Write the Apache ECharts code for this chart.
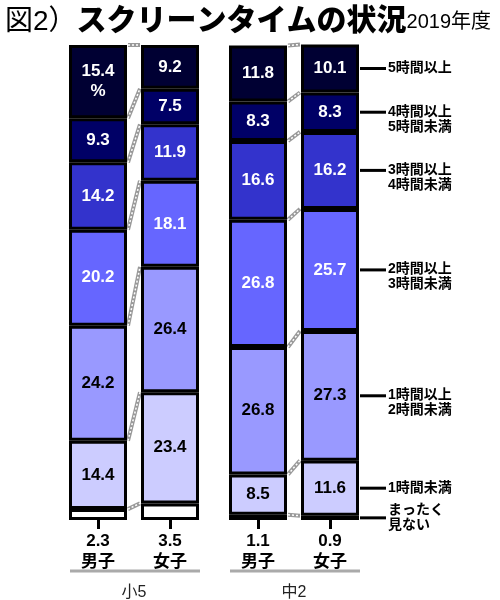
<!DOCTYPE html>
<html>
<head>
<meta charset="utf-8">
<script src="https://cdn.jsdelivr.net/npm/echarts@6/dist/echarts.min.js"></script>
<style>
  html, body { margin: 0; padding: 0; background: #fff; }
  #chart { width: 500px; height: 600px; }
</style>
</head>
<body>
<div id="chart"></div>
<script>
// data (percent), order: 小5男子, 小5女子, 中2男子, 中2女子
const groups = ["小5", "中2"];
const genders = ["男子", "女子"];
const layerNames = [
  "まったく\n見ない",
  "1時間未満",
  "1時間以上\n2時間未満",
  "2時間以上\n3時間未満",
  "3時間以上\n4時間未満",
  "4時間以上\n5時間未満",
  "5時間以上",
];
const noneVals = [2.3, 3.5, 1.1, 0.9];
const under1 = [14.4, 23.4, 8.5, 11.6];
const h1to2 = [24.2, 26.4, 26.8, 27.3];
const h2to3 = [20.2, 18.1, 26.8, 25.7];
const h3to4 = [14.2, 11.9, 16.6, 16.2];
const h4to5 = [9.3, 7.5, 8.3, 8.3];
const over5 = [15.4, 9.2, 11.8, 10.1];
const layers = [noneVals, under1, h1to2, h2to3, h3to4, h4to5, over5];

const layerColors = ["#ffffff", "#ccccff", "#9999ff", "#6666ff", "#3333cc", "#000066", "#000033"];
const labelColors = ["#000", "#000", "#000", "#fff", "#fff", "#fff", "#fff"];
const FONT = "'Liberation Sans', 'Noto Sans CJK JP', sans-serif";
const BAR_W = 58;

// cumulative top of layer k for bar i
function cum(i, k) {
  let s = 0;
  for (let l = 0; l <= k; l++) s += layers[l][i];
  return Math.round(s * 10) / 10;
}

const grids = [
  { left: 62, width: 144, top: 45, bottom: 80, outerBoundsMode: "none" },
  { left: 222, width: 144, top: 45, bottom: 80, outerBoundsMode: "none" },
];

const xAxes = groups.map((g, gi) => ({
  type: "category",
  gridIndex: gi,
  data: genders,
  axisLine: { show: false },
  axisTick: { show: true, alignWithLabel: true, length: 9, lineStyle: { color: "#000", width: 3 } },
  axisLabel: {
    margin: 11,
    fontFamily: FONT,
    fontWeight: "bold",
    fontSize: 17,
    color: "#000",
    lineHeight: 21,
    formatter: (value, idx) => noneVals[gi * 2 + idx] + "\n" + value,
  },
  name: g,
  nameLocation: "middle",
  nameGap: 65,
  nameTextStyle: { fontFamily: FONT, fontSize: 16, color: "#222" },
}));

const yAxes = groups.map((g, gi) => ({
  type: "value",
  gridIndex: gi,
  min: 0,
  max: 100,
  show: false,
}));

const series = [];
groups.forEach((g, gi) => {
  layers.forEach((vals, li) => {
    series.push({
      type: "bar",
      name: layerNames[li],
      xAxisIndex: gi,
      yAxisIndex: gi,
      stack: "s" + gi,
      barWidth: BAR_W,
      data: vals.slice(gi * 2, gi * 2 + 2),
      itemStyle: { color: layerColors[li], borderColor: "#000", borderWidth: 3 },
      label: {
        show: li > 0,
        position: "inside",
        fontFamily: FONT,
        fontWeight: "bold",
        fontSize: 17,
        lineHeight: 20,
        color: labelColors[li],
        formatter: (p) => (li === 6 && gi === 0 && p.dataIndex === 0 ? p.value + "\n%" : p.value),
      },
      emphasis: { disabled: true },
    });
  });

  // dotted connectors between the two bars of a group
  const links = [];
  for (let k = 0; k < layers.length; k++) {
    links.push([0, cum(gi * 2, k), cum(gi * 2 + 1, k)]);
  }
  series.push({
    type: "custom",
    xAxisIndex: gi,
    yAxisIndex: gi,
    encode: { x: 0, y: 1 },
    data: links,
    z: 1,
    renderItem: (params, api) => {
      const a = api.coord([0, api.value(1)]);
      const b = api.coord([1, api.value(2)]);
      const shape = { x1: a[0] + BAR_W / 2 + 1, y1: a[1], x2: b[0] - BAR_W / 2 - 1, y2: b[1] };
      return {
        type: "group",
        children: [
          { type: "line", shape: shape, style: { stroke: "#999", lineWidth: 4 } },
          { type: "line", shape: shape, style: { stroke: "#fff", lineWidth: 1.5, lineDash: [2, 2] } },
        ],
      };
    },
  });
});

// category labels on the right, at the middle of each segment of the last bar
const sideLabels = layers.map((vals, k) => [1, (k === 0 ? 0 : cum(3, k - 1)) + vals[3] / 2, k]);
series.push({
  type: "custom",
  xAxisIndex: 1,
  yAxisIndex: 1,
  encode: { x: 0, y: 1 },
  data: sideLabels,
  renderItem: (params, api) => {
    const p = api.coord([1, api.value(1)]);
    const k = api.value(2);
    const x0 = p[0] + BAR_W / 2 + 1;
    return {
      type: "group",
      children: [
        { type: "line", shape: { x1: x0, y1: p[1], x2: x0 + 26, y2: p[1] }, style: { stroke: "#000", lineWidth: 3 } },
        {
          type: "text",
          x: x0 + 28,
          y: k === 0 ? p[1] : p[1] - 8,
          style: {
            text: layerNames[k],
            fill: "#000",
            fontFamily: FONT,
            fontWeight: "bold",
            fontSize: 14,
            lineHeight: 15,
            align: "left",
            verticalAlign: k === 0 ? "middle" : "top",
          },
        },
      ],
    };
  },
});

const myChart = echarts.init(document.getElementById("chart"));
myChart.setOption({
  animation: false,
  title: {
    left: 0,
    top: 2,
    text: "{a|図2）}{b|スクリーンタイムの状況}{c|2019年度}",
    textStyle: {
      rich: {
        a: { fontFamily: FONT, fontSize: 28, fontWeight: "normal", color: "#000" },
        b: { fontFamily: FONT, fontSize: 30, fontWeight: 900, color: "#000" },
        c: { fontFamily: FONT, fontSize: 20, fontWeight: "normal", color: "#000" },
      },
    },
  },
  grid: grids,
  xAxis: xAxes,
  yAxis: yAxes,
  series: series,
  graphic: [
    { type: "line", shape: { x1: 70, y1: 571, x2: 200, y2: 571 }, style: { stroke: "#aaa", lineWidth: 3 } },
    { type: "line", shape: { x1: 230, y1: 571, x2: 360, y2: 571 }, style: { stroke: "#aaa", lineWidth: 3 } },
  ],
});
</script>
</body>
</html>
